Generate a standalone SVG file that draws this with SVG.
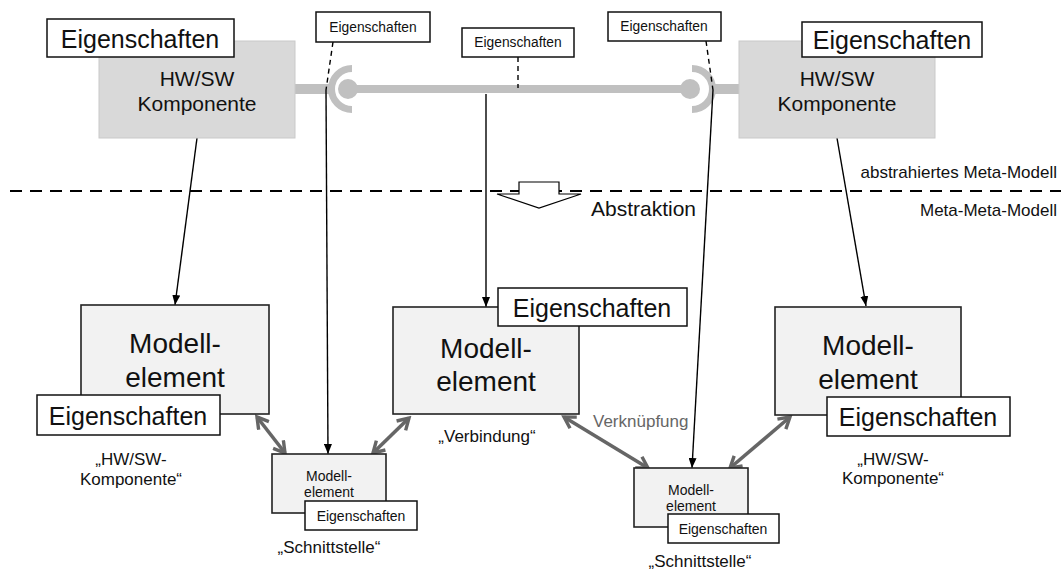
<svg xmlns="http://www.w3.org/2000/svg" width="1061" height="572" viewBox="0 0 1061 572">
  <style>
    text { font-family: "Liberation Sans", Arial, sans-serif; fill: #111; }
    .hw { fill: #d9d9d9; stroke: #c9c9c9; stroke-width: 1; }
    .me { fill: #f2f2f2; stroke: #222; stroke-width: 1.6; }
    .prop { fill: #fff; stroke: #111; stroke-width: 1.5; }
    .big { font-size: 25px; text-anchor: middle; }
    .small { font-size: 13.8px; text-anchor: middle; }
    .hwt { font-size: 21px; text-anchor: middle; }
    .met { font-size: 28px; text-anchor: middle; }
    .mes { font-size: 14px; text-anchor: middle; }
    .lbl { font-size: 17px; text-anchor: middle; }
    .rt { font-size: 17px; text-anchor: end; }
    .bar { stroke: #c0c0c0; fill: none; }
    .link { stroke: #000; stroke-width: 1.4; fill: none; }
    .dash { stroke: #000; stroke-width: 1.4; fill: none; stroke-dasharray: 5 4; }
    .rel { stroke: #666; stroke-width: 3.6; fill: none; marker-start: url(#chev); marker-end: url(#chev); }
  </style>
  <defs>
    <marker id="tri" markerUnits="userSpaceOnUse" viewBox="0 0 10 8" refX="10" refY="4" markerWidth="10" markerHeight="8" orient="auto">
      <path d="M0,0 L10,4 L0,8 z" fill="#000"/>
    </marker>
    <marker id="chev" markerUnits="userSpaceOnUse" viewBox="0 0 16 16" refX="13" refY="8" markerWidth="16" markerHeight="16" orient="auto-start-reverse">
      <path d="M2,1.5 L13,8 L2,14.5" fill="none" stroke="#666" stroke-width="3.4"/>
    </marker>
  </defs>

  <!-- level separator -->
  <g id="separator">
    <line x1="10" y1="191" x2="1061" y2="191" stroke="#000" stroke-width="2" stroke-dasharray="12 8"/>
    <polygon id="abstraction-arrow" points="519,182 559,182 559,194 581,194 539,208 497,194 519,194" fill="#fff" stroke="#000" stroke-width="1.2"/>
    <text x="591" y="216" style="font-size:21px">Abstraktion</text>
    <text class="rt" x="1057" y="178">abstrahiertes Meta-Modell</text>
    <text class="rt" x="1057" y="216">Meta-Meta-Modell</text>
  </g>

  <!-- interface bar between the two components -->
  <g id="interface">
    <line class="bar" x1="294" y1="89" x2="331" y2="89" stroke-width="10"/>
    <line class="bar" x1="348" y1="89" x2="690" y2="89" stroke-width="8"/>
    <circle cx="348" cy="89" r="10" fill="#c0c0c0"/>
    <circle cx="690" cy="89" r="10" fill="#c0c0c0"/>
    <path class="bar" d="M352,68.5 A20.5,20.5 0 0 0 352,109.5" stroke-width="7"/>
    <path class="bar" d="M692,68.5 A20.5,20.5 0 0 1 692,109.5" stroke-width="7"/>
    <line class="bar" x1="711" y1="89" x2="740" y2="89" stroke-width="10"/>
  </g>

  <!-- connectors -->
  <g id="connectors">
    <line class="dash" x1="333" y1="42" x2="326" y2="90"/>
    <line class="dash" x1="518" y1="57" x2="518" y2="88"/>
    <line class="dash" x1="706" y1="41" x2="713" y2="90"/>
    <line class="link" x1="197" y1="138" x2="175" y2="305" marker-end="url(#tri)"/>
    <line class="link" x1="326" y1="90" x2="328" y2="454" marker-end="url(#tri)"/>
    <line class="link" x1="486" y1="94" x2="486" y2="307" marker-end="url(#tri)"/>
    <line class="link" x1="713" y1="90" x2="692" y2="468" marker-end="url(#tri)"/>
    <line class="link" x1="837" y1="138" x2="866" y2="306" marker-end="url(#tri)"/>
    <line class="rel" x1="257" y1="417" x2="285" y2="453"/>
    <line class="rel" x1="409" y1="418" x2="373" y2="453"/>
    <line class="rel" x1="564" y1="417" x2="648" y2="468"/>
    <line class="rel" x1="790" y1="417" x2="730" y2="468"/>
    <text x="593" y="427" style="font-size:17px;fill:#666">Verknüpfung</text>
  </g>

  <!-- abstracted meta-model: components -->
  <g id="hw-left">
    <rect class="hw" x="99" y="41" width="196" height="97"/>
    <text class="hwt" x="197" y="86">HW/SW</text>
    <text class="hwt" x="197" y="111">Komponente</text>
    <rect class="prop" x="47" y="19" width="187" height="38"/>
    <text class="big" x="140" y="48">Eigenschaften</text>
  </g>
  <g id="hw-right">
    <rect class="hw" x="739" y="41" width="196" height="97"/>
    <text class="hwt" x="837" y="86">HW/SW</text>
    <text class="hwt" x="837" y="111">Komponente</text>
    <rect class="prop" x="802" y="22" width="180" height="35"/>
    <text class="big" x="892" y="49">Eigenschaften</text>
  </g>
  <g id="prop-if-left">
    <rect class="prop" x="316" y="12" width="114" height="30"/>
    <text class="small" x="373" y="32">Eigenschaften</text>
  </g>
  <g id="prop-link">
    <rect class="prop" x="462" y="28" width="112" height="29"/>
    <text class="small" x="518" y="47">Eigenschaften</text>
  </g>
  <g id="prop-if-right">
    <rect class="prop" x="608" y="12" width="113" height="29"/>
    <text class="small" x="664" y="31">Eigenschaften</text>
  </g>

  <!-- meta-meta-model: model elements -->
  <g id="me-left">
    <rect class="me" x="81" y="305" width="188" height="109"/>
    <text class="met" x="175" y="353">Modell-</text>
    <text class="met" x="175" y="387">element</text>
    <rect class="prop" x="37" y="395" width="183" height="40"/>
    <text class="big" x="128" y="425">Eigenschaften</text>
    <text class="lbl" x="131" y="465">„HW/SW-</text>
    <text class="lbl" x="131" y="485">Komponente“</text>
  </g>
  <g id="me-middle">
    <rect class="me" x="393" y="307" width="186" height="107"/>
    <text class="met" x="486" y="358">Modell-</text>
    <text class="met" x="486" y="391">element</text>
    <rect class="prop" x="498" y="288" width="189" height="38"/>
    <text class="big" x="592" y="317">Eigenschaften</text>
    <text class="lbl" x="487" y="442">„Verbindung“</text>
  </g>
  <g id="me-right">
    <rect class="me" x="775" y="307" width="186" height="108"/>
    <text class="met" x="868" y="355">Modell-</text>
    <text class="met" x="868" y="389">element</text>
    <rect class="prop" x="827" y="397" width="183" height="39"/>
    <text class="big" x="918" y="426">Eigenschaften</text>
    <text class="lbl" x="893" y="465">„HW/SW-</text>
    <text class="lbl" x="893" y="484">Komponente“</text>
  </g>
  <g id="if-left">
    <rect class="me" x="272" y="454" width="114" height="59"/>
    <text class="mes" x="329" y="481">Modell-</text>
    <text class="mes" x="329" y="497">element</text>
    <rect class="prop" x="305" y="501" width="112" height="29"/>
    <text class="mes" x="361" y="521">Eigenschaften</text>
    <text class="lbl" x="329" y="553">„Schnittstelle“</text>
  </g>
  <g id="if-right">
    <rect class="me" x="634" y="468" width="114" height="59"/>
    <text class="mes" x="691" y="495">Modell-</text>
    <text class="mes" x="691" y="511">element</text>
    <rect class="prop" x="668" y="514" width="111" height="29"/>
    <text class="mes" x="723" y="534">Eigenschaften</text>
    <text class="lbl" x="700" y="567">„Schnittstelle“</text>
  </g>
</svg>
